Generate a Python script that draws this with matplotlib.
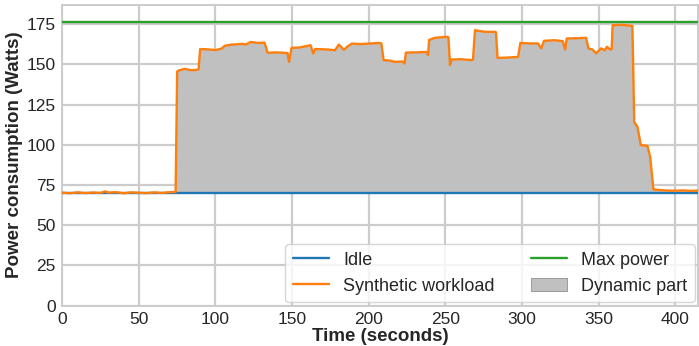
import matplotlib
matplotlib.use("Agg")
import matplotlib.pyplot as plt
import seaborn as sns
import numpy as np

time_s = [0, 5, 10, 15, 20, 25, 28, 30, 35, 40, 45, 50, 55, 60, 65, 70, 74, 75,
          76, 80, 84, 88, 89, 90, 95, 100, 104, 106, 110, 117, 120, 123, 128, 132,
          134, 140, 147, 148, 149.6, 155, 162, 163.8, 165, 172, 178, 180.5, 183.8,
          186, 189, 194.6, 200, 206.5, 208.2, 209.7, 214, 217, 222, 223.4, 224.2,
          230, 237.9, 238.7, 239.4, 243.3, 250.9, 252, 253, 254, 260, 267, 268,
          269.3, 275.8, 282.3, 283, 284, 290, 297.4, 298.9, 305, 310.4, 312.5,
          314.3, 321.2, 326.6, 328.1, 329.2, 335, 341.8, 343.3, 346, 348.3, 351.5,
          354.1, 355.4, 357.6, 358.5, 359.1, 365, 372, 373.2, 375.3, 377.5, 381.8,
          383.6, 385.7, 390, 395, 400, 405, 410, 415]
workload = [70.2, 69.8, 70.4, 69.9, 70.3, 70.0, 71.0, 70.2, 70.5, 69.8, 70.4, 70.1,
            69.9, 70.4, 70.0, 70.5, 70.6, 145.5,
            146.2, 147.2, 146.3, 146.6, 147.0, 159.5, 159.3, 158.9, 159.8, 161.5,
            162.2, 162.7, 162.4, 163.9, 163.3, 163.5,
            157.2, 157.4, 157.0, 151.5, 160.2, 160.5, 161.9, 156.7, 159.5, 159.3,
            158.8, 162.3, 159.0,
            161.0, 162.9, 162.6, 162.9, 163.3, 163.0, 152.6, 152.3, 151.5, 151.8,
            150.5, 157.3,
            157.4, 157.7, 155.7, 165.2, 166.5, 167.1, 166.8, 149.5, 153.0, 153.2,
            152.6, 153.0,
            171.2, 170.2, 170.2, 170.0, 154.0, 154.2, 154.6, 163.3, 163.0, 163.0,
            159.9,
            164.6, 165.0, 164.4, 159.2, 166.1, 166.2, 166.5, 159.9, 159.2, 156.8,
            159.9,
            158.8, 160.9, 159.2, 159.5, 174.3, 174.6, 173.9, 114.2, 111.1, 99.8,
            99.3,
            92.5, 72.2, 71.8, 71.5, 71.4, 71.6, 71.3, 71.5]
idle_power = 70.0
max_power = 176.5

t = np.array(time_s)
w = np.array(workload)

sns.set_style("whitegrid")
plt.rcParams['font.family'] = ['Liberation Sans', 'DejaVu Sans']
plt.rcParams['grid.linewidth'] = 1.6
plt.rcParams['axes.linewidth'] = 1.4

fig, ax = plt.subplots(figsize=(6.99, 3.46), dpi=100)
fig.subplots_adjust(left=0.089, right=0.999, top=0.986, bottom=0.117)

idle_line, = ax.plot([0, 415], [idle_power, idle_power], color="tab:blue",
                     lw=1.7, zorder=3, label="Idle")
work_line, = ax.plot(t, w, color="tab:orange", lw=1.7, zorder=4,
                     label="Synthetic workload")
max_line, = ax.plot([0, 415], [max_power, max_power], color="tab:green",
                    lw=1.7, zorder=3, label="Max power")
dyn = ax.fill_between(t, idle_power, w, where=w > idle_power, facecolor="silver",
                      edgecolor="grey", linewidth=0.5, zorder=2,
                      label="Dynamic part")

ax.set_xlim(0, 415)
ax.set_ylim(0, 187)
ax.set_yticks([0, 25, 50, 75, 100, 125, 150, 175])
ax.tick_params(labelsize=12.5, pad=1)
ax.set_xlabel("Time (seconds)", fontsize=13.5, fontweight="bold", labelpad=1)
ax.set_ylabel("Power consumption (Watts)", fontsize=13.5, fontweight="bold",
              labelpad=3)

ax.legend(handles=[idle_line, work_line, max_line, dyn], loc="lower right",
          ncol=2, fontsize=13, framealpha=0.8, borderaxespad=0.2,
          columnspacing=2.0)

plt.savefig("out.png", dpi=100)
